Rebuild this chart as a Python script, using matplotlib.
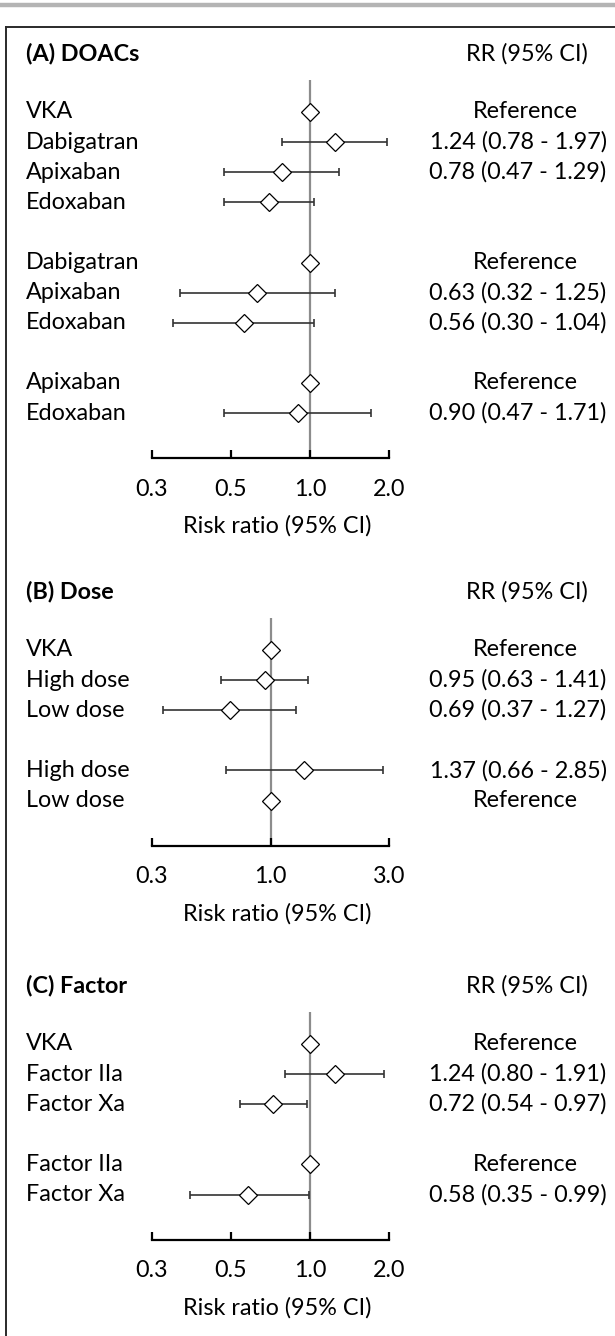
import numpy as np
import matplotlib
matplotlib.use("Agg")
import matplotlib.pyplot as plt
from matplotlib.lines import Line2D
from matplotlib.transforms import blended_transform_factory

plt.rcParams['font.family'] = ['Lato', 'DejaVu Sans']

# (A) DOACs, each group compared with its first row (reference)
doac_groups = [["VKA", "Dabigatran", "Apixaban", "Edoxaban"],
               ["Dabigatran", "Apixaban", "Edoxaban"],
               ["Apixaban", "Edoxaban"]]
doac_rr = [[1.0, 1.24, 0.78, 0.70], [1.0, 0.63, 0.56], [1.0, 0.90]]
doac_lo = [[None, 0.78, 0.47, 0.47], [None, 0.32, 0.30], [None, 0.47]]
doac_hi = [[None, 1.97, 1.29, 1.04], [None, 1.25, 1.04], [None, 1.71]]
doac_shown = [[True, True, True, False], [True, True, True], [True, True]]

# (B) Dose
dose_groups = [["VKA", "High dose", "Low dose"], ["High dose", "Low dose"]]
dose_rr = [[1.0, 0.95, 0.69], [1.37, 1.0]]
dose_lo = [[None, 0.63, 0.37], [0.66, None]]
dose_hi = [[None, 1.41, 1.27], [2.85, None]]
dose_shown = [[True, True, True], [True, True]]

# (C) Factor
factor_groups = [["VKA", "Factor IIa", "Factor Xa"], ["Factor IIa", "Factor Xa"]]
factor_rr = [[1.0, 1.24, 0.72], [1.0, 0.58]]
factor_lo = [[None, 0.80, 0.54], [None, 0.35]]
factor_hi = [[None, 1.91, 0.97], [None, 0.99]]
factor_shown = [[True, True, True], [True, True]]

ticks_2 = [0.25, 0.5, 1.0, 2.0]
tick_labels_2 = ["0.3", "0.5", "1.0", "2.0"]
ticks_3 = [1 / 3, 1.0, 3.0]
tick_labels_3 = ["0.3", "1.0", "3.0"]

panels = [
    dict(title="(A) DOACs", groups=doac_groups, rr=doac_rr, lo=doac_lo, hi=doac_hi,
         shown=doac_shown, base=2, ticks=ticks_2, labels=tick_labels_2, row0=112),
    dict(title="(B) Dose", groups=dose_groups, rr=dose_rr, lo=dose_lo, hi=dose_hi,
         shown=dose_shown, base=3, ticks=ticks_3, labels=tick_labels_3, row0=650),
    dict(title="(C) Factor", groups=factor_groups, rr=factor_rr, lo=factor_lo, hi=factor_hi,
         shown=factor_shown, base=2, ticks=ticks_2, labels=tick_labels_2, row0=1044),
]

W, H = 615, 1336
fig = plt.figure(figsize=(W / 100, H / 100), dpi=100)

FS = 16.8
STEP = 30.1          # pixels between rows
X_LEFT, X_RIGHT = 152, 389
LINE_COL = "#333333"


def fx(px):
    return px / W


def fy(py):
    return 1 - py / H


for p in panels:
    names, rows, rr, lo, hi, shown = [], [], [], [], [], []
    r = 0
    for gi, g in enumerate(p["groups"]):
        for k, name in enumerate(g):
            names.append(name)
            rows.append(r)
            rr.append(p["rr"][gi][k])
            lo.append(p["lo"][gi][k])
            hi.append(p["hi"][gi][k])
            shown.append(p["shown"][gi][k])
            r += 1
        r += 1
    last = rows[-1]
    top_row = -1.06
    bot_row = last + 1.5
    y_top = p["row0"] + top_row * STEP
    y_axis = p["row0"] + bot_row * STEP

    ax = fig.add_axes([fx(X_LEFT), fy(y_axis), fx(X_RIGHT - X_LEFT), (y_axis - y_top) / H])
    ax.set_xscale("log", base=p["base"])
    ax.set_xlim(p["ticks"][0], p["ticks"][-1])
    ax.set_ylim(bot_row, top_row)
    ax.patch.set_visible(False)
    for s in ["left", "right", "top"]:
        ax.spines[s].set_visible(False)
    ax.spines["bottom"].set_linewidth(1.6)
    ax.spines["bottom"].set_color("black")
    ax.set_yticks([])
    ax.set_xticks(p["ticks"])
    ax.set_xticklabels(p["labels"], fontsize=FS)
    ax.xaxis.set_minor_locator(matplotlib.ticker.NullLocator())
    ax.tick_params(axis="x", direction="in", length=6, width=1.6, pad=15)

    ax.axvline(1.0, color="#8c8c8c", lw=1.6, zorder=1)

    ci = [i for i in range(len(rows)) if lo[i] is not None]
    xr = np.array([rr[i] for i in ci])
    ax.errorbar(xr, [rows[i] for i in ci],
                xerr=[xr - np.array([lo[i] for i in ci]), np.array([hi[i] for i in ci]) - xr],
                fmt="none", ecolor=LINE_COL, elinewidth=1.2, capsize=3.2, capthick=1.2, zorder=2)
    ax.plot(rr, rows, "D", ms=9.2, mfc="white", mec="black", mew=0.9, zorder=3, clip_on=False)

    tr = blended_transform_factory(fig.transFigure, ax.transData)
    for i, name in enumerate(names):
        ax.text(fx(26), rows[i], name, transform=tr, ha="left", va="center", fontsize=FS)
        if not shown[i]:
            continue
        if lo[i] is None:
            ax.text(fx(525), rows[i], "Reference", transform=tr, ha="center", va="center", fontsize=FS)
        else:
            txt = f"{rr[i]:.2f} ({lo[i]:.2f} - {hi[i]:.2f})"
            ax.text(fx(518), rows[i], txt, transform=tr, ha="center", va="center", fontsize=FS)

    head_row = -58 / STEP
    ax.text(fx(26), head_row, p["title"], transform=tr, ha="left", va="center",
            fontsize=FS, fontweight="bold")
    ax.text(fx(527), head_row, "RR (95% CI)", transform=tr, ha="center", va="center", fontsize=FS)

    fig.text(fx(277), fy(y_axis + 68), "Risk ratio (95% CI)", ha="center", va="center", fontsize=FS)

# frame lines around the figure
fig.add_artist(Line2D([0, 1], [fy(5), fy(5)], color="#b4b4b4", lw=3.2))
fig.add_artist(Line2D([fx(6), 1], [fy(27), fy(27)], color="#2a2a2a", lw=1.4))
fig.add_artist(Line2D([fx(6), fx(6)], [fy(27), 0], color="#2a2a2a", lw=1.4))

fig.savefig("out.png", dpi=100)
